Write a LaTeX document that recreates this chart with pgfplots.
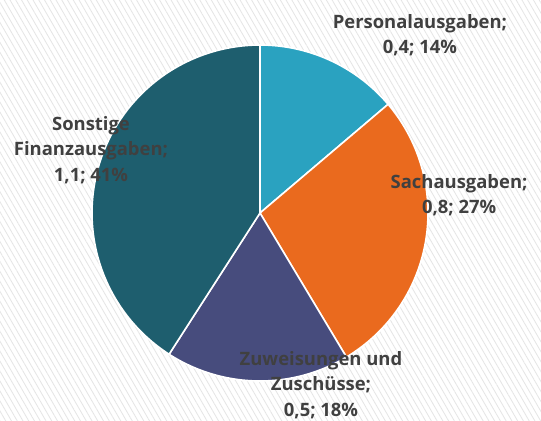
\documentclass[border=0pt]{standalone}
\usepackage{pgfplots}
\pgfplotsset{compat=1.18}
\usepackage{pgfplotstable}
\usetikzlibrary{patterns.meta}
\usepackage{fontspec}
\setmainfont{Open Sans}
\definecolor{cPers}{HTML}{2AA2C0}
\definecolor{cSach}{HTML}{EA6A1E}
\definecolor{cZuw}{HTML}{474C7D}
\definecolor{cSonst}{HTML}{1E5E6E}
\definecolor{txt}{HTML}{404040}

\pgfplotstableread{
label value
Personalausgaben 13.8
Sachausgaben 27.6
Zuweisungen 17.7
Sonstige 40.9
}\piedata

\begin{document}%
\begin{tikzpicture}
\pgfplotstablegetelem{0}{value}\of\piedata \let\vA\pgfplotsretval
\pgfplotstablegetelem{1}{value}\of\piedata \let\vB\pgfplotsretval
\pgfplotstablegetelem{2}{value}\of\piedata \let\vC\pgfplotsretval
\pgfplotstablegetelem{3}{value}\of\piedata \let\vD\pgfplotsretval
\pgfmathsetmacro\aO{90}
\pgfmathsetmacro\aA{\aO-3.6*\vA}
\pgfmathsetmacro\aB{\aA-3.6*\vB}
\pgfmathsetmacro\aC{\aB-3.6*\vC}
\pgfmathsetmacro\aD{\aC-3.6*\vD}
\fill[white] (0,0) rectangle (541bp,421bp);
\fill[pattern={Lines[angle=120, distance=5pt, line width=0.8pt]}, pattern color=black!10] (0,0) rectangle (541bp,421bp);
\begin{axis}[
  at={(260bp,208bp)}, anchor=center,
  scale only axis, width=336bp, height=336bp,
  xmin=-1, xmax=1, ymin=-1, ymax=1,
  hide axis, clip=false,
]
\addplot[fill=cPers, draw=white, line width=1.6pt, domain=\aA:\aO, samples=80, variable=\t] ({cos(\t)},{sin(\t)}) -- (axis cs:0,0) -- cycle;
\addplot[fill=cSach, draw=white, line width=1.6pt, domain=\aB:\aA, samples=80, variable=\t] ({cos(\t)},{sin(\t)}) -- (axis cs:0,0) -- cycle;
\addplot[fill=cZuw, draw=white, line width=1.6pt, domain=\aC:\aB, samples=80, variable=\t] ({cos(\t)},{sin(\t)}) -- (axis cs:0,0) -- cycle;
\addplot[fill=cSonst, draw=white, line width=1.6pt, domain=\aD:\aC, samples=120, variable=\t] ({cos(\t)},{sin(\t)}) -- (axis cs:0,0) -- cycle;
\tikzset{lbl/.style={font=\fontsize{18.5}{25.5}\selectfont\bfseries, text=txt, align=center, inner sep=0pt}}
\node[lbl] at (axis cs:0.952,1.06) {Personalausgaben;\\0,4; 14\%};
\node[lbl] at (axis cs:1.185,0.107) {Sachausgaben;\\0,8; 27\%};
\node[lbl] at (axis cs:0.363,-1.024) {Zuweisungen und\\Zuschüsse;\\0,5; 18\%};
\node[lbl] at (axis cs:-1.006,0.375) {Sonstige\\Finanzausgaben;\\1,1; 41\%};
\end{axis}
\end{tikzpicture}%
\end{document}
